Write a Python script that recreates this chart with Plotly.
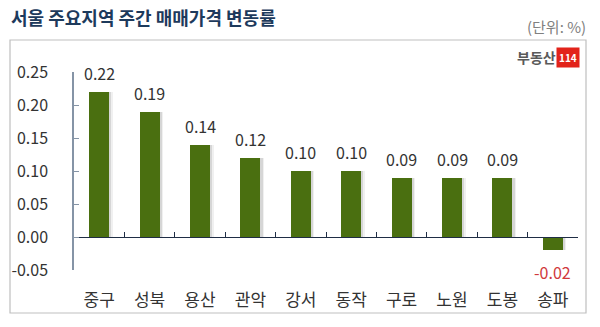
import plotly.graph_objects as go

# Weekly apartment price change by Seoul district (%)
districts = ["중구", "성북", "용산", "관악", "강서", "동작", "구로", "노원", "도봉", "송파"]
changes = [0.22, 0.19, 0.14, 0.12, 0.10, 0.10, 0.09, 0.09, 0.09, -0.02]
y_ticks = [-0.05, 0.00, 0.05, 0.10, 0.15, 0.20, 0.25]

FONT = "Noto Sans CJK KR"
W, H = 600, 327
ML, MR, MT, MB = 74, 22, 72, 57
PW, PH = W - ML - MR, H - MT - MB
Y_MIN, Y_MAX = -0.05, 0.25


def px_x(x):
    return (x - ML) / PW


def px_y(y):
    return (H - MB - y) / PH


fig = go.Figure()

# soft drop shadow behind each bar (two faint layers)
for off, alpha in [(-0.13, 0.07), (-0.16, 0.13)]:
    fig.add_trace(go.Bar(
        x=districts, y=changes, width=0.40, offset=off,
        marker=dict(color=f"rgba(40,40,40,{alpha})", line=dict(width=0)),
        hoverinfo="skip", showlegend=False,
    ))
fig.add_trace(go.Bar(
    x=districts, y=changes, width=0.40, offset=-0.20,
    marker=dict(color="#4a6f10", line=dict(width=0)),
    showlegend=False,
))

# value labels
for d, v in zip(districts, changes):
    fig.add_annotation(
        x=d, y=v, text=f"{v:.2f}", showarrow=False,
        yanchor="middle", yshift=19 if v >= 0 else -22,
        font=dict(family=FONT, size=16, color="#333333" if v >= 0 else "#d0393b"),
    )

# outer frame
fig.add_shape(type="rect", xref="paper", yref="paper",
              x0=px_x(10), x1=px_x(586), y0=px_y(313), y1=px_y(40),
              line=dict(color="#bfbfbf", width=1.2), fillcolor="rgba(0,0,0,0)", layer="below")

# title and unit
fig.add_annotation(xref="paper", yref="paper", x=px_x(9), y=px_y(17),
                   xanchor="left", yanchor="middle", showarrow=False,
                   text="<b>서울 주요지역 주간 매매가격 변동률</b>",
                   font=dict(family=FONT, size=18, color="#1d3a5c"))
fig.add_annotation(xref="paper", yref="paper", x=px_x(588), y=px_y(27),
                   xanchor="right", yanchor="middle", showarrow=False,
                   text="(단위: %)", font=dict(family=FONT, size=15, color="#808080"))

# brand mark
fig.add_annotation(xref="paper", yref="paper", x=px_x(558), y=px_y(57),
                   xanchor="right", yanchor="middle", showarrow=False,
                   text="<b>부동산</b>", font=dict(family=FONT, size=14, color="#5a5a5a"))
fig.add_annotation(xref="paper", yref="paper", x=px_x(568), y=px_y(57),
                   xanchor="center", yanchor="middle", showarrow=False,
                   text="<b>114</b>", bgcolor="#e2231a", borderpad=2,
                   font=dict(family=FONT, size=10, color="#ffffff"))

fig.update_layout(
    width=W, height=H,
    margin=dict(l=ML, r=MR, t=MT, b=MB, pad=0),
    paper_bgcolor="white", plot_bgcolor="white",
    barmode="overlay", bargap=0,
    font=dict(family=FONT),
    xaxis=dict(
        type="category", anchor="free",
        position=(0 - Y_MIN) / (Y_MAX - Y_MIN),
        showline=True, linecolor="#1f2d45", linewidth=1.3,
        ticks="inside", tickson="boundaries", ticklen=5, tickcolor="#1f2d45",
        ticklabelstandoff=47,
        tickfont=dict(family=FONT, size=17, color="#333333"),
        showgrid=False, zeroline=False, fixedrange=True,
    ),
    yaxis=dict(
        range=[Y_MIN, Y_MAX], tickvals=y_ticks,
        ticktext=[f"{t:.2f}" for t in y_ticks],
        showline=True, linecolor="#8594a6", linewidth=1.5,
        ticks="inside", ticklen=5, tickcolor="#8594a6",
        ticklabelstandoff=21,
        tickfont=dict(family=FONT, size=16, color="#333333"),
        showgrid=False, zeroline=False, fixedrange=True,
    ),
)

fig.write_html("out.html")
